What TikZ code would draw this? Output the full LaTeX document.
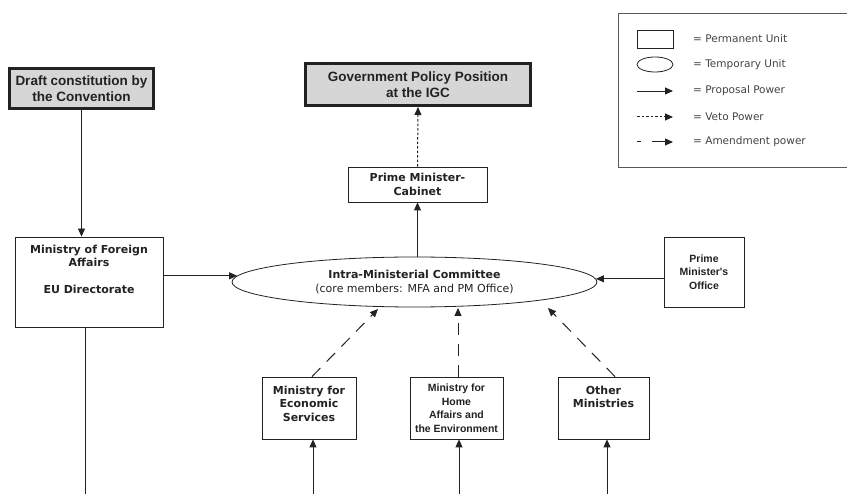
\documentclass[tikz,border=0pt]{standalone}
\usepackage{fontspec}
\setmainfont{DejaVu Sans}
\newfontfamily\arialfont{Liberation Sans}
\usetikzlibrary{arrows.meta,shapes.geometric}
\definecolor{ink}{HTML}{222222}
\definecolor{shade}{HTML}{D6D6D6}

\begin{document}
\begin{tikzpicture}[x=1pt,y=-1pt,
  every node/.style={text=ink, inner sep=0pt},
  unit/.style={draw=ink, line width=0.8pt, rectangle, fill=white},
  keybox/.style={draw=ink, line width=3pt, fill=shade, align=center,
    font=\arialfont\bfseries\fontsize{13.5}{16}\selectfont},
  vtxt/.style={font=\bfseries\fontsize{11}{13.5}\selectfont, align=center},
  atxt/.style={font=\arialfont\bfseries\fontsize{10.5}{13.5}\selectfont, align=center},
  tip/.style={-{Triangle[length=8pt,width=7pt]}},
  proposal/.style={tip, draw=ink, line width=0.8pt},
  veto/.style={tip, draw=ink, line width=1pt, dash pattern=on 2.5pt off 2pt},
  amend/.style={tip, draw=ink, line width=1pt, dash pattern=on 12pt off 9pt},
  legtxt/.style={anchor=west, font=\fontsize{10.5}{12}\selectfont, text=ink!85}
]
\useasboundingbox (0,0) rectangle (847,494);

% ---- outcome boxes
\node[keybox, minimum width=144pt, minimum height=40pt] (draft) at (81.5,88.5)
  {Draft constitution by\\the Convention};
\node[keybox, minimum width=225pt, minimum height=42pt] (gov) at (418,84.5)
  {Government Policy Position\\at the IGC};

% ---- permanent units
\node[unit, vtxt, minimum width=139pt, minimum height=35pt] (pmc) at (417.5,184.5)
  {Prime Minister-\\Cabinet};
\node[unit, minimum width=148pt, minimum height=90pt] (mfa) at (89,282) {};
\node[vtxt, anchor=north] (mfaText) at (89,244.5)
  {Ministry of Foreign\\Affairs\\[13.5pt]EU Directorate};
\node[unit, atxt, minimum width=80pt, minimum height=70pt] (pmo) at (704,272)
  {Prime\\Minister's\\Office};
\node[unit, minimum width=94pt, minimum height=62pt] (econ) at (309,408) {};
\node[vtxt, anchor=north] (econText) at (309,385.5)
  {Ministry for\\Economic\\Services};
\node[unit, atxt, minimum width=93pt, minimum height=62pt] (home) at (456.5,408)
  {Ministry for\\Home\\Affairs and\\the Environment};
\node[unit, minimum width=91pt, minimum height=62pt] (other) at (603.5,408) {};
\node[vtxt, anchor=north] (otherText) at (603.5,385.5)
  {Other\\Ministries};

% ---- temporary unit
\node[ellipse, draw=ink, line width=0.8pt, minimum width=365pt, minimum height=50pt,
  align=center, font=\fontsize{11}{14}\selectfont] (ell) at (414.5,282)
  {\bfseries Intra-Ministerial Committee\\(core members: MFA and PM Office)};

% ---- proposal power
\draw[proposal] (draft.south) -- (draft.south |- mfa.north);
\draw[proposal] (mfa.east |- ell.178.5) -- (ell.178.5);
\draw[proposal] (pmo.west |- ell.1.5) -- (ell.1.5);
\draw[proposal] (pmc.south |- ell.north) -- (pmc.south);

\coordinate (mfaOut) at (85,494);
\draw[draw=ink, line width=0.8pt] (mfaOut |- mfa.south) -- (mfaOut);
\coordinate (econIn) at (313,494);
\coordinate (homeIn) at (459,494);
\coordinate (otherIn) at (607,494);
\draw[proposal] (econIn) -- (econIn |- econ.south);
\draw[proposal] (homeIn) -- (homeIn |- home.south);
\draw[proposal] (otherIn) -- (otherIn |- other.south);

% ---- veto power
\draw[veto] (pmc.north) -- (gov.south);

% ---- amendment power
\coordinate (econTip) at (378,309);
\coordinate (homeTip) at (458,308);
\coordinate (otherTip) at (548,308);
\draw[amend] ([xshift=3pt]econ.north) -- (econTip);
\draw[amend] (home.north -| homeTip) -- (homeTip);
\draw[amend] ([xshift=11.5pt]other.north) -- (otherTip);

% ---- key
\draw[ink!75, line width=0.8pt] (847,13) -- (618,13) -- (618,167) -- (847,167);
\node[unit, minimum width=36pt, minimum height=18pt] (keyRect) at (655,39) {};
\node[ellipse, draw=ink, line width=0.8pt, minimum width=36pt, minimum height=15pt] (keyEll) at (655,64.5) {};
\coordinate (keyPa) at (637,91);  \coordinate (keyPb) at (673,91);
\coordinate (keyVa) at (637,117); \coordinate (keyVb) at (673,117);
\coordinate (keyAa) at (637,142); \coordinate (keyAb) at (673,142);
\draw[proposal] (keyPa) -- (keyPb);
\draw[veto] (keyVa) -- (keyVb);
\draw[tip, draw=ink, line width=1pt, dash pattern=on 4pt off 11pt on 40pt off 1pt] (keyAa) -- (keyAb);
\node[legtxt] (keyT1) at (693,39)   {= Permanent Unit};
\node[legtxt] (keyT2) at (693,64.5) {= Temporary Unit};
\node[legtxt] (keyT3) at (693,91)   {= Proposal Power};
\node[legtxt] (keyT4) at (693,117)  {= Veto Power};
\node[legtxt] (keyT5) at (693,142)  {= Amendment power};
\end{tikzpicture}
\end{document}
